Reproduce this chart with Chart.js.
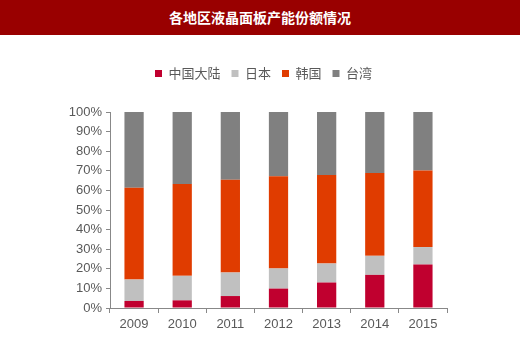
<!DOCTYPE html>
<html><head><meta charset="utf-8">
<script src="https://cdn.jsdelivr.net/npm/chart.js@4"></script>
<style>
html,body{margin:0;padding:0;background:#fff;}
#title{width:520px;height:35px;background:#990000;color:#fff;font:bold 14px "Noto Sans CJK SC",sans-serif;text-align:center;line-height:35px;}
#wrap{width:520px;height:322px;position:relative;}
</style></head><body>
<div id="title">各地区液晶面板产能份额情况</div>
<div id="wrap"><canvas id="c" width="520" height="322"></canvas></div>
<script>
const categories = ['2009','2010','2011','2012','2013','2014','2015'];
const seriesNames = ['中国大陆','日本','韩国','台湾'];
const chinaMainland = [3.6, 3.9, 6.1, 9.9, 13.0, 16.9, 22.2];
const japan = [10.9, 12.5, 12.0, 10.3, 9.7, 9.7, 8.9];
const korea = [46.9, 46.9, 47.3, 47.0, 45.2, 42.3, 39.0];
const taiwan = [38.6, 36.7, 34.6, 32.8, 32.1, 31.1, 29.9];
const colors = ['#C0002F', '#C0C0C0', '#E03C00', '#808080'];
const values = [chinaMainland, japan, korea, taiwan];

const legendFit = {
  id: 'legendFit',
  beforeInit(chart) {
    const orig = chart.legend.fit;
    chart.legend.fit = function () { orig.bind(chart.legend)(); this.height = 77; };
  },
  afterLayout(chart) {
    const lg = chart.legend;
    lg.left = 144; lg.top = 21;
  }
};

new Chart(document.getElementById('c'), {
  type: 'bar',
  data: {
    labels: categories,
    datasets: seriesNames.map((n, i) => ({
      label: n, data: values[i], backgroundColor: colors[i],
      categoryPercentage: 1, barPercentage: 0.4
    }))
  },
  options: {
    responsive: false, animation: false,
    layout: { padding: { left: 0, right: 73, top: 0, bottom: 0 } },
    plugins: {
      tooltip: { enabled: false },
      legend: {
        position: 'top', align: 'start',
        labels: {
          boxWidth: 7, boxHeight: 7, padding: 11,
          color: '#595959',
          font: { family: '"Noto Sans CJK SC", sans-serif', size: 13 }
        }
      }
    },
    scales: {
      x: {
        stacked: true,
        grid: { display: true, drawOnChartArea: false, offset: true, tickLength: 5, color: '#888' },
        border: { color: '#888' },
        ticks: { color: '#595959', font: { family: '"Liberation Sans", Arial, sans-serif', size: 13 }, padding: 4 },
        afterFit(s) { s.height = 49; }
      },
      y: {
        stacked: true, min: 0, max: 100,
        ticks: { stepSize: 10, callback: v => v + '%', color: '#595959',
          font: { family: '"Liberation Sans", Arial, sans-serif', size: 13 }, padding: 4 },
        grid: { display: true, drawOnChartArea: false, tickLength: 4, color: '#888' },
        border: { color: '#888' },
        afterFit(s) { s.width = 110; }
      }
    }
  },
  plugins: [legendFit]
});
</script>
</body></html>
